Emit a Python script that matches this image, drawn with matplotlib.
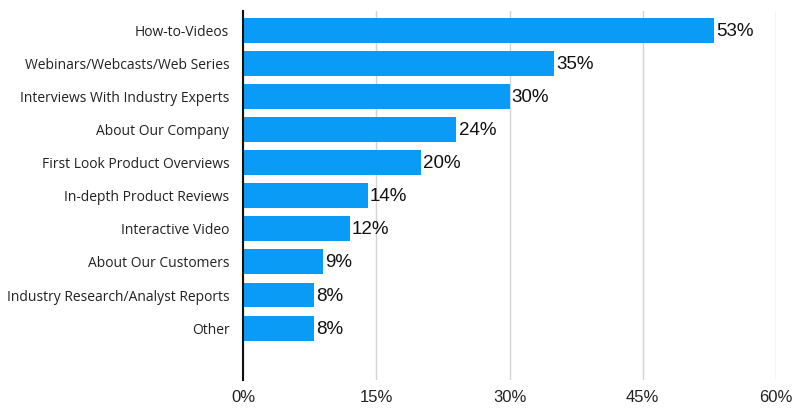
import matplotlib.pyplot as plt

categories = [
    "How-to-Videos",
    "Webinars/Webcasts/Web Series",
    "Interviews With Industry Experts",
    "About Our Company",
    "First Look Product Overviews",
    "In-depth Product Reviews",
    "Interactive Video",
    "About Our Customers",
    "Industry Research/Analyst Reports",
    "Other",
]
values = [53, 35, 30, 24, 20, 14, 12, 9, 8, 8]
xticks = [0, 15, 30, 45, 60]

fig = plt.figure(figsize=(8, 4.15), dpi=100)
ax = fig.add_axes([0.304, 0.084, 0.666, 0.889])

pos = list(range(len(categories)))
ax.barh(pos, values, height=0.75, color="#0A9BF6", zorder=3)
for y, v in zip(pos, values):
    ax.text(v + 0.25, y + 0.03, f"{v}%", va="center", ha="left", fontsize=13.5,
            family="Liberation Sans", color="#111111")

ax.set_ylim(len(categories) + 0.57, -0.57)
ax.set_xlim(0, 60)
ax.set_yticks(pos)
ax.set_yticklabels(categories, fontsize=10, family="Open Sans", color="#222222")
ax.set_xticks(xticks)
ax.set_xticklabels([f"{t}%" for t in xticks], fontsize=12,
                   family="Liberation Sans", color="#222222")
ax.tick_params(axis="both", length=0)
ax.tick_params(axis="y", pad=10)
ax.tick_params(axis="x", pad=7)

ax.grid(axis="x", color="#D3D3D3", linewidth=1, zorder=0)
for s in ["top", "right", "bottom"]:
    ax.spines[s].set_visible(False)
ax.spines["left"].set_linewidth(1.5)
ax.spines["left"].set_color("#111111")
ax.spines["left"].set_zorder(4)

fig.savefig("out.png", dpi=100)
